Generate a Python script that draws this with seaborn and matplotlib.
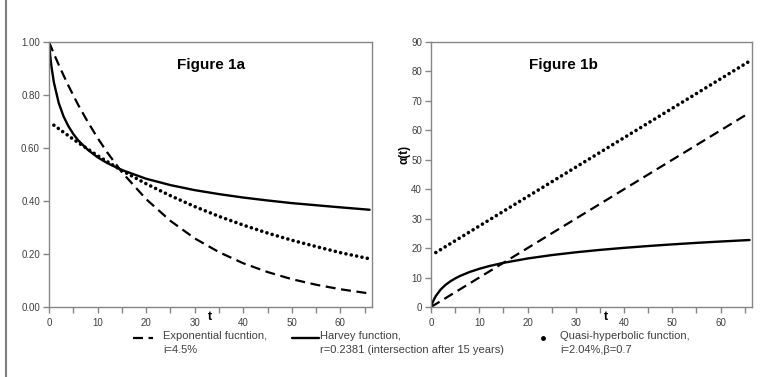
import matplotlib
matplotlib.use("Agg")
import matplotlib.pyplot as plt
from matplotlib import font_manager
from matplotlib.lines import Line2D
from matplotlib.patches import Rectangle
import seaborn as sns

# dati
t_exp = [0, 1, 2, 3, 4, 5, 6, 8, 10, 12, 15, 20, 25, 30, 35, 40, 45, 50, 55, 60, 66]
d_exp = [1.00, 0.956, 0.914, 0.874, 0.835, 0.799, 0.763, 0.698, 0.638, 0.583, 0.509,
         0.407, 0.325, 0.259, 0.207, 0.165, 0.132, 0.105, 0.084, 0.067, 0.051]
a_exp = [0, 1, 2, 3, 4, 5, 6, 8, 10, 12, 15, 20, 25, 30, 35, 40, 45, 50, 55, 60, 66]

t_harvey = [0, 0.25, 0.5, 1, 2, 3, 4, 5, 6, 8, 10, 12, 15, 20, 25, 30, 35, 40, 45, 50, 55, 60, 66]
d_harvey = [1.00, 0.948, 0.908, 0.848, 0.770, 0.719, 0.682, 0.653, 0.629, 0.593, 0.565, 0.543,
            0.517, 0.484, 0.460, 0.441, 0.426, 0.413, 0.402, 0.392, 0.384, 0.376, 0.367]
a_harvey = [0, 1.21, 2.19, 3.75, 5.94, 7.50, 8.71, 9.69, 10.53, 11.89, 12.97, 13.88,
            15.0, 16.47, 17.63, 18.58, 19.39, 20.09, 20.71, 21.27, 21.78, 22.24, 22.75]

t_qh = [1, 5, 10, 15, 20, 25, 30, 35, 40, 45, 50, 55, 60, 66]
d_qh = [0.686, 0.633, 0.571, 0.515, 0.465, 0.420, 0.379, 0.342, 0.309, 0.279, 0.252, 0.228, 0.205, 0.182]
a_qh = [18.5, 22.5, 27.5, 32.5, 37.5, 42.5, 47.5, 52.5, 57.5, 62.5, 67.5, 72.5, 77.5, 83.5]

x_ticks = [0, 10, 20, 30, 40, 50, 60]
y_ticks_a = [0.0, 0.2, 0.4, 0.6, 0.8, 1.0]
y_ticks_b = [0, 10, 20, 30, 40, 50, 60, 70, 80, 90]

legend_labels = ["Exponential fucntion,\ni=4.5%",
                 "Harvey function,\nr=0.2381 (intersection after 15 years)",
                 "Quasi-hyperbolic function,\ni=2.04%,\u03b2=0.7"]

sns.set_theme(style="white")
installed = {f.name for f in font_manager.fontManager.ttflist}
narrow = "Liberation Sans Narrow" if "Liberation Sans Narrow" in installed else "Liberation Sans"
plt.rcParams['font.family'] = [narrow, 'DejaVu Sans']

grey = "#868686"
txt = "#404040"
dash = (0, (4.5, 2.5))
dots = (0, (0.01, 1.5))
bold_font = ["Liberation Sans", "DejaVu Sans"]

fig = plt.figure(figsize=(7.62, 3.77), dpi=100)
ax1 = fig.add_axes([49 / 762, 1 - 307 / 377, 323 / 762, 265 / 377])
ax2 = fig.add_axes([431 / 762, 1 - 307 / 377, 321 / 762, 265 / 377])

# Figura 1a
sns.lineplot(x=t_exp, y=d_exp, ax=ax1, color="black", lw=1.6, linestyle=dash)
sns.lineplot(x=t_harvey, y=d_harvey, ax=ax1, color="black", lw=1.7)
sns.lineplot(x=t_qh, y=d_qh, ax=ax1, color="black", lw=2.6, linestyle=dots, dash_capstyle="round")
ax1.set_ylim(0, 1)
ax1.set_yticks(y_ticks_a)
ax1.set_yticklabels([f"{v:.2f}" for v in y_ticks_a])

# Figura 1b
sns.lineplot(x=t_exp, y=a_exp, ax=ax2, color="black", lw=1.6, linestyle=dash)
sns.lineplot(x=t_harvey, y=a_harvey, ax=ax2, color="black", lw=1.7)
sns.lineplot(x=t_qh, y=a_qh, ax=ax2, color="black", lw=2.6, linestyle=dots, dash_capstyle="round")
ax2.set_ylim(0, 90)
ax2.set_yticks(y_ticks_b)
ax2.text(-0.083, 0.574, "\u03b1(t)", transform=ax2.transAxes, rotation=90, ha="center", va="center",
         fontsize=8.5, fontweight="bold", color="black", family=bold_font)

for ax, title, tx in [(ax1, "Figure 1a", 0.503), (ax2, "Figure 1b", 0.414)]:
    ax.set_xlim(0, 66.5)
    ax.set_xticks(x_ticks)
    ax.set_xticks([5, 15, 25, 35, 45, 55, 65], minor=True)
    ax.set_xlabel("")
    ax.set_ylabel("")
    for s in ax.spines.values():
        s.set_color(grey)
        s.set_linewidth(1.0)
    ax.tick_params(axis="both", which="both", direction="out", length=4, width=1, color=grey,
                   labelsize=7, labelcolor=txt, left=True, bottom=True)
    ax.tick_params(axis="x", pad=4)
    ax.tick_params(axis="y", pad=2.5)
    ax.text(tx, 0.913, title, transform=ax.transAxes, ha="center", va="center",
            fontsize=11, fontweight="bold", color="black", family=bold_font)
for ax, xx in [(ax1, 0.498), (ax2, 0.544)]:
    ax.text(xx, -0.036, "t", transform=ax.transAxes, ha="center", va="center",
            fontsize=9, fontweight="bold", color="black", family=bold_font)

# cornice esterna (solo lati superiore e sinistro visibili)
fig.add_artist(Rectangle((6 / 762, -0.2), 1.2, 1.2 + 1 - 10 / 377, transform=fig.transFigure,
                         fill=False, edgecolor="#7f7f7f", lw=1.5))

# legenda in basso
y1 = 1 - 338 / 377
fig.add_artist(Line2D([133 / 762, 153 / 762], [y1, y1], transform=fig.transFigure, color="black",
                      lw=1.6, linestyle=dash))
fig.add_artist(Line2D([292 / 762, 319 / 762], [y1, y1], transform=fig.transFigure, color="black", lw=1.7))
fig.add_artist(Line2D([543 / 762], [y1], transform=fig.transFigure, color="black", marker="o",
                      markersize=2.5, linestyle="none"))
for x, lab in zip([163, 320, 560], legend_labels):
    fig.text(x / 762, 1 - 331 / 377, lab, ha="left", va="top", fontsize=8, color=txt, linespacing=1.45)

fig.savefig("out.png", dpi=100)
